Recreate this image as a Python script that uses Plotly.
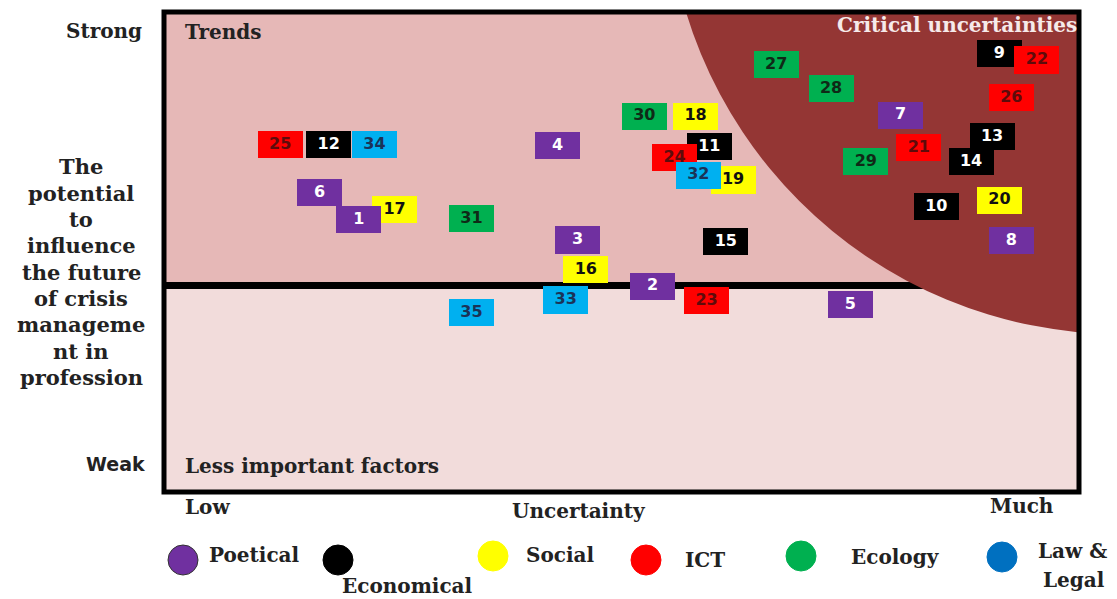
import plotly.graph_objects as go

# ---------------- data (x = uncertainty 0-100, y = influence 0-100) ----------------
poetical_ids = [1, 2, 3, 4, 5, 6, 7, 8]
poetical_x = [21.3, 53.4, 45.2, 43.0, 75.0, 17.0, 80.5, 92.6]
poetical_y = [56.7, 42.9, 52.5, 72.1, 39.0, 62.3, 78.5, 52.3]

economical_ids = [9, 10, 11, 12, 13, 14, 15]
economical_x = [91.3, 84.4, 59.6, 18.0, 90.5, 88.2, 61.4]
economical_y = [91.3, 59.4, 71.9, 72.3, 74.0, 68.8, 52.1]

social_ids = [16, 17, 18, 19, 20]
social_x = [46.1, 25.2, 58.1, 62.2, 91.3]
social_y = [46.3, 58.8, 78.3, 65.0, 60.8]

ict_ids = [21, 22, 23, 24, 25, 26]
ict_x = [82.5, 95.4, 59.3, 55.8, 12.7, 92.6]
ict_y = [71.7, 90.0, 39.8, 69.6, 72.3, 82.1]

ecology_ids = [27, 28, 29, 30, 31]
ecology_x = [66.9, 72.9, 76.7, 52.5, 33.6]
ecology_y = [89.0, 84.0, 68.8, 78.3, 56.9]

law_ids = [32, 33, 34, 35]
law_x = [58.4, 43.9, 23.0, 33.6]
law_y = [66.0, 40.0, 72.3, 37.3]

legend_labels = ["Poetical", "Economical", "Social", "ICT", "Ecology", "Law &<br>Legal"]
threshold_influence = 43.0  # border between trends and less important factors

# ---------------- styling ----------------
W, H = 1117, 599
L, R, T, B = 164, 1079, 12, 492          # plot area (pixels)
BOX_W, BOX_H = 4.92, 5.63                # factor box size in data units
SERIF = "DejaVu Serif"
SANS = "DejaVu Sans"
TXT = "#222222"

groups = [  # draw order = z-order
    ("Social", social_ids, social_x, social_y, "#ffff00", "#111111"),
    ("Economical", economical_ids, economical_x, economical_y, "#000000", "#ffffff"),
    ("Poetical", poetical_ids, poetical_x, poetical_y, "#7030a0", "#ffffff"),
    ("ICT", ict_ids, ict_x, ict_y, "#ff0000", "#5e0b0b"),
    ("Law & Legal", law_ids, law_x, law_y, "#00b0f0", "#1b3358"),
    ("Ecology", ecology_ids, ecology_x, ecology_y, "#00b050", "#0f2a17"),
]


def px(x):
    return (x - L) / (R - L)


def py(y):
    return (B - y) / (B - T)


fig = go.Figure()

for name, ids, xs, ys, col, tcol in groups:
    fig.add_trace(go.Bar(
        x=xs, y=[BOX_H] * len(xs), base=[v - BOX_H / 2 for v in ys],
        width=BOX_W, marker=dict(color=col, line=dict(width=0)),
        name=name, showlegend=False, hoverinfo="skip",
    ))
for name, ids, xs, ys, col, tcol in groups:
    fig.add_trace(go.Scatter(
        x=xs, y=ys, mode="text", text=[str(i) for i in ids],
        textfont=dict(family=SANS, size=16, color=tcol, weight="bold"),
        textposition="middle center", showlegend=False, hoverinfo="skip",
    ))

shapes = [
    # quadrant backgrounds
    dict(type="rect", xref="x", yref="y", x0=0, x1=100, y0=threshold_influence, y1=100,
         fillcolor="#e6b8b7", line=dict(width=0), layer="below"),
    dict(type="rect", xref="x", yref="y", x0=0, x1=100, y0=0, y1=threshold_influence,
         fillcolor="#f2dcdb", line=dict(width=0), layer="below"),
    # dividing line
    dict(type="line", xref="x", yref="y", x0=0, x1=100, y0=threshold_influence,
         y1=threshold_influence, line=dict(color="black", width=7), layer="below"),
    # critical uncertainties zone
    dict(type="circle", xref="x", yref="y", x0=104.5 - 49.6, x1=104.5 + 49.6,
         y0=127.5 - 94.6, y1=127.5 + 94.6, fillcolor="#943634",
         line=dict(width=0), layer="below"),
    # frame
    dict(type="rect", xref="paper", yref="paper", x0=0, x1=1, y0=0, y1=1,
         line=dict(color="black", width=5), fillcolor="rgba(0,0,0,0)", layer="above"),
]

legend_circles = [(183, 560, "#7030a0"), (338, 560, "#000000"), (493, 556, "#ffff00"),
                  (646, 560, "#ff0000"), (801, 556, "#00b050"), (1002, 557, "#0070c0")]
for cx, cy, col in legend_circles:
    shapes.append(dict(type="circle", xref="paper", yref="paper",
                       xsizemode="pixel", ysizemode="pixel",
                       xanchor=px(cx), yanchor=py(cy), x0=-15, x1=15, y0=-15, y1=15,
                       fillcolor=col, line=dict(color="#333333" if col == "#7030a0" else col, width=1)))

ann = []


def text(t, x, y, anchor="left", size=20, family=SERIF, color=TXT):
    ann.append(dict(text=t, xref="paper", yref="paper", x=px(x), y=py(y),
                    xanchor=anchor, yanchor="middle", showarrow=False,
                    font=dict(family=family, size=size, color=color, weight="bold")))


text("Strong", 144, 31, "right")
text("Trends", 183, 32)
text("Critical uncertainties", 835, 25, color="#f6eaea")
text("Less important factors", 183, 466)
text("Weak", 147, 464, "right", size=19, family=SANS)
text("Low", 183, 507)
text("Uncertainty", 579, 511, "center")
text("Much", 988, 506)

ytitle = ["The", "potential", "to", "influence", "the future", "of crisis",
          "manageme", "nt in", "profession"]
for i, line in enumerate(ytitle):
    text(line, 81, 167 + i * 26.3, "center", size=21)

legend_pos = [(207, 555), (340, 586), (524, 555), (683, 560), (849, 557)]
for lab, (x, y) in zip(legend_labels[:5], legend_pos):
    text(lab, x, y)
law1, law2 = legend_labels[5].split("<br>")
text(law1, 1072, 551, "center")
text(law2, 1074, 580, "center")

fig.update_layout(
    width=W, height=H,
    margin=dict(l=L, r=W - R, t=T, b=H - B, pad=0),
    paper_bgcolor="white", plot_bgcolor="white",
    barmode="overlay", bargap=0,
    xaxis=dict(range=[0, 100], visible=False, fixedrange=True),
    yaxis=dict(range=[0, 100], visible=False, fixedrange=True),
    shapes=shapes, annotations=ann, showlegend=False,
)

fig.write_html("out.html", config={"displayModeBar": False},
               post_script="document.body.style.margin='0';")
